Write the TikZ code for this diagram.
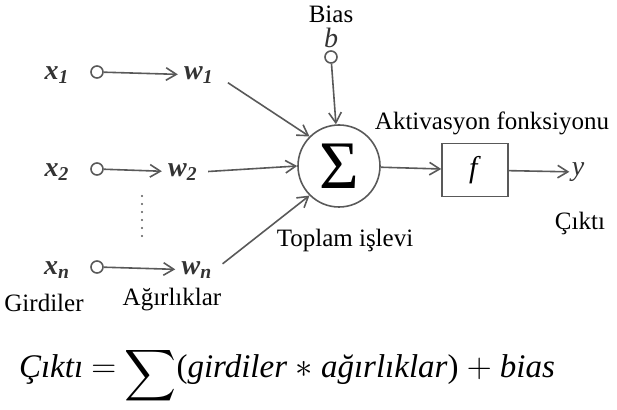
\documentclass[tikz,border=0pt]{standalone}
\usepackage{fontspec}
\setmainfont{Liberation Serif}
\usetikzlibrary{positioning, arrows.meta}
\usepackage{graphicx}
\definecolor{wire}{gray}{0.35}
\newcommand{\wvar}[2]{\textbf{\textit{#1}}\textsubscript{\textbf{\textit{#2}}}}

\begin{document}
\begin{tikzpicture}[x=0.5pt, y=-0.5pt,
    every node/.style={font=\fontsize{12.5}{15}\selectfont},
    inp/.style={circle, draw=wire, line width=0.8pt, inner sep=0pt, minimum size=6pt},
    lbl/.style={font=\fontsize{14}{15}\selectfont, inner sep=1pt, text=black!80},
    flow/.style={-{Straight Barb[length=1.8mm, width=2.2mm]}, draw=wire, line width=0.8pt}]
  \useasboundingbox (0,0) rectangle (617,410);
  % --- wejscia x_i i wagi w_i ---
  \node[lbl] (x1) at (57,75)  {\wvar{x}{1}};
  \node[inp] (c1) at (97,72)  {};
  \node[lbl] (w1) at (199,75) {\wvar{w}{1}};
  \node[lbl] (x2) at (57,172)  {\wvar{x}{2}};
  \node[inp] (c2) at (97,169)  {};
  \node[lbl] (w2) at (183,172) {\wvar{w}{2}};
  \node[lbl] (xn) at (57,270)  {\wvar{x}{n}};
  \node[inp] (cn) at (97,267)  {};
  \node[lbl] (wn) at (197,270) {\wvar{w}{n}};
  \draw[wire, line width=1.2pt, line cap=round, dash pattern=on 0pt off 4pt] (142,196) -- (142,242);

  % --- sumator, bias i aktywacja ---
  \node[circle, draw=wire, line width=0.8pt, minimum size=41pt, inner sep=0pt,
        font=\fontsize{34}{34}\selectfont] (sum) at (339,166) {Σ};
  \node[inp] (cb) at (331,57) {};
  \node[lbl, inner sep=0pt] (b) at (331,38) {\textit{b}};
  \node (bias) at (331,14) {Bias};
  \node[draw=wire, line width=0.8pt, minimum width=33pt, minimum height=26.5pt,
        font=\fontsize{15}{15}\selectfont] (f) at (475,170) {\textit{f}};
  \node[lbl] (y) at (578,172) {\textit{y}};

  % --- podpisy ---
  \node (akt)  at (492,123) {Aktivasyon fonksiyonu};
  \node (cik)  at (580,223) {Çıktı};
  \node (top)  at (345,240) {Toplam işlevi};
  \node (gir)  at (44,303)  {Girdiler};
  \node (agr)  at (172,300) {Ağırlıklar};
  \node[font=\fontsize{16.5}{20}\selectfont, inner sep=0pt] (form) at (287,376)
    {\textit{Çıktı} $=$ \raisebox{-0.9ex}{\scalebox{1.8}{$\displaystyle\sum$}}(\textit{girdiler} $\ast$ \textit{ağırlıklar}) $+$ \textit{bias}};

  % --- polaczenia ---
  \draw[flow, shorten >=2pt] (c1) -- (w1);
  \draw[flow, shorten >=2pt] (c2) -- (w2);
  \draw[flow, shorten >=2pt] (cn) -- (wn);
  \draw[flow, shorten <=7pt] (w1.east) -- (sum.north west);
  \draw[flow, shorten <=4pt] (w2.east) -- (sum.west);
  \draw[flow, shorten <=5pt] (wn.east) -- (sum.south west);
  \draw[flow] (cb) -- (sum);
  \draw[flow] (sum) -- (f);
  \draw[flow] (f) -- (y);
\end{tikzpicture}
\end{document}
